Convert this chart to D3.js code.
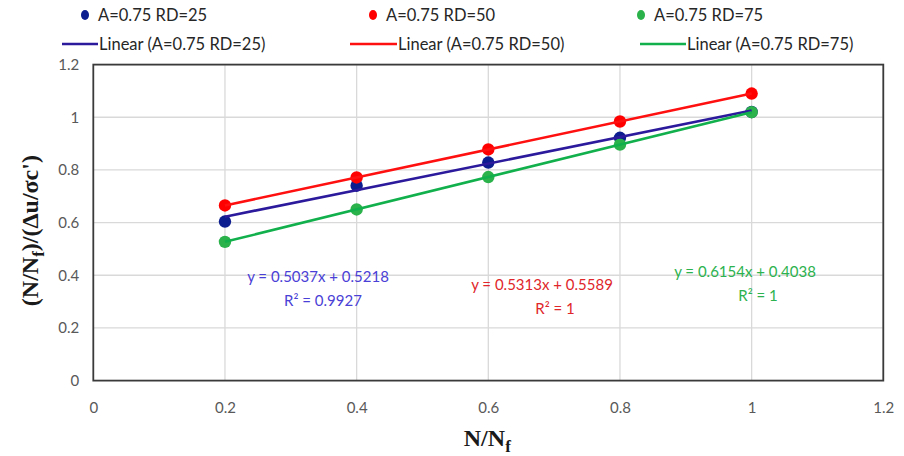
<!DOCTYPE html>
<html>
<head>
<meta charset="utf-8">
<script src="https://cdn.jsdelivr.net/npm/d3@7"></script>
<style>
  html, body { margin: 0; padding: 0; background: #fff; }
  svg { display: block; }
  .tick text { font-family: Lato, "Liberation Sans", sans-serif; font-size: 15px; fill: #595959; }
</style>
</head>
<body>
<svg id="chart" width="904" height="456"></svg>
<script>
// N/Nf sampling points
const xValues = [0.2, 0.4, 0.6, 0.8, 1.0];
// Normalised response for each relative density
const rd25 = [0.604, 0.740, 0.828, 0.922, 1.020];
const rd50 = [0.6652, 0.7714, 0.8777, 0.9839, 1.0902];
const rd75 = [0.5269, 0.6500, 0.7730, 0.8961, 1.0192];
// Linear trend coefficients [slope, intercept, R²]
const fit25 = [0.5037, 0.5218, "0.9927"];
const fit50 = [0.5313, 0.5589, "1"];
const fit75 = [0.6154, 0.4038, "1"];
const seriesNames = ["A=0.75 RD=25", "A=0.75 RD=50", "A=0.75 RD=75"];
const xTicks = [0, 0.2, 0.4, 0.6, 0.8, 1, 1.2];
const yTicks = [0, 0.2, 0.4, 0.6, 0.8, 1, 1.2];

const series = [
  { name: seriesNames[0], values: rd25, fit: fit25, dot: "#0c1d8f", line: "#2c1a9c", text: "#4a3fd6",
    legendDot: 85, legendLine: [62, 98], eq: [318, 277] },
  { name: seriesNames[1], values: rd50, fit: fit50, dot: "#ff0000", line: "#ff1010", text: "#e0262a",
    legendDot: 373, legendLine: [350, 397], eq: [542, 285] },
  { name: seriesNames[2], values: rd75, fit: fit75, dot: "#2bb24a", line: "#12b04c", text: "#2cb24e",
    legendDot: 641, legendLine: [640, 686], eq: [745, 272] }
];

const svg = d3.select("#chart");
const margin = { left: 93.3, right: 883.3, top: 64.6, bottom: 380.6 };

const x = d3.scaleLinear().domain([0, 1.2]).range([margin.left, margin.right]);
const y = d3.scaleLinear().domain([0, 1.2]).range([margin.bottom, margin.top]);

// Gridlines
const grid = svg.append("g");
grid.selectAll("line.h").data(yTicks.slice(1)).join("line")
  .attr("x1", margin.left).attr("x2", margin.right)
  .attr("y1", d => y(d)).attr("y2", d => y(d))
  .attr("stroke", "#d9d9d9").attr("stroke-width", 1.3);
grid.selectAll("line.v").data(xTicks.slice(1)).join("line")
  .attr("x1", d => x(d)).attr("x2", d => x(d))
  .attr("y1", margin.top).attr("y2", margin.bottom)
  .attr("stroke", "#d9d9d9").attr("stroke-width", 1.3);

// Axes (labels only, the frame is drawn separately)
const xAxis = svg.append("g").attr("transform", `translate(0,${margin.bottom})`)
  .call(d3.axisBottom(x).tickValues(xTicks).tickSize(0).tickPadding(22).tickFormat(d3.format("")));
xAxis.select(".domain").remove();

const yAxis = svg.append("g").attr("transform", `translate(${margin.left},0)`)
  .call(d3.axisLeft(y).tickValues(yTicks).tickSize(0).tickPadding(14).tickFormat(d3.format("")));
yAxis.select(".domain").remove();

// Plot frame
svg.append("rect")
  .attr("x", margin.left).attr("y", margin.top)
  .attr("width", margin.right - margin.left).attr("height", margin.bottom - margin.top)
  .attr("fill", "none").attr("stroke", "#3a3a3a").attr("stroke-width", 1.8);

// Data markers
series.forEach(s => {
  svg.append("g").selectAll("circle").data(s.values).join("circle")
    .attr("cx", (d, i) => x(xValues[i])).attr("cy", d => y(d))
    .attr("r", 6.2).attr("fill", s.dot);
});

// Linear trendlines from the fitted coefficients
series.forEach(s => {
  const [m, b] = s.fit;
  const x0 = d3.min(xValues), x1 = d3.max(xValues);
  svg.append("line")
    .attr("x1", x(x0)).attr("y1", y(m * x0 + b))
    .attr("x2", x(x1)).attr("y2", y(m * x1 + b))
    .attr("stroke", s.line).attr("stroke-width", 2.6);
});

// Trendline equations
series.forEach(s => {
  const [m, b, r2] = s.fit;
  const g = svg.append("g").attr("fill", s.text)
    .style("font-family", "Lato, 'Liberation Sans', sans-serif").style("font-size", "15px")
    .attr("text-anchor", "middle");
  g.append("text").attr("x", s.eq[0]).attr("y", s.eq[1] + 5)
    .text(`y = ${m.toFixed(4)}x + ${b.toFixed(4)}`);
  g.append("text").attr("x", s.eq[0] + (r2 === "1" ? 13 : 5)).attr("y", s.eq[1] + 29)
    .text(`R² = ${r2}`);
});

// Legend
const legendFont = "Lato, 'Liberation Sans', sans-serif";
series.forEach(s => {
  svg.append("ellipse").attr("cx", s.legendDot).attr("cy", 15).attr("rx", 4).attr("ry", 5)
    .attr("fill", s.dot);
  svg.append("text").attr("x", s.legendDot + 13).attr("y", 21)
    .style("font-family", legendFont).style("font-size", "16.5px").attr("fill", "#262626")
    .text(s.name);
  svg.append("line").attr("x1", s.legendLine[0]).attr("x2", s.legendLine[1])
    .attr("y1", 44).attr("y2", 44).attr("stroke", s.line).attr("stroke-width", 2.6);
  svg.append("text").attr("x", s.legendLine[1] + 1).attr("y", 50)
    .style("font-family", legendFont).style("font-size", "16.5px").attr("fill", "#262626")
    .text(`Linear (${s.name})`);
});

// Axis titles
const titleFont = "'Liberation Serif', 'Times New Roman', serif";
const xt = svg.append("text").attr("x", (margin.left + margin.right) / 2 - 1).attr("y", 446)
  .attr("text-anchor", "middle")
  .style("font-family", titleFont).style("font-size", "24px").style("font-weight", "bold")
  .attr("fill", "#1a1a1a");
xt.append("tspan").text("N/N");
xt.append("tspan").attr("dy", 6).style("font-size", "17px").text("f");

const yt = svg.append("text")
  .attr("transform", `translate(38,${(margin.top + margin.bottom) / 2 + 8}) rotate(-90)`)
  .attr("text-anchor", "middle")
  .style("font-family", titleFont).style("font-size", "24px").style("font-weight", "bold")
  .attr("fill", "#1a1a1a");
yt.append("tspan").text("(N/N");
yt.append("tspan").attr("dy", 6).style("font-size", "17px").text("f");
yt.append("tspan").attr("dy", -6).text(")/(Δu/σc')");
</script>
</body>
</html>
